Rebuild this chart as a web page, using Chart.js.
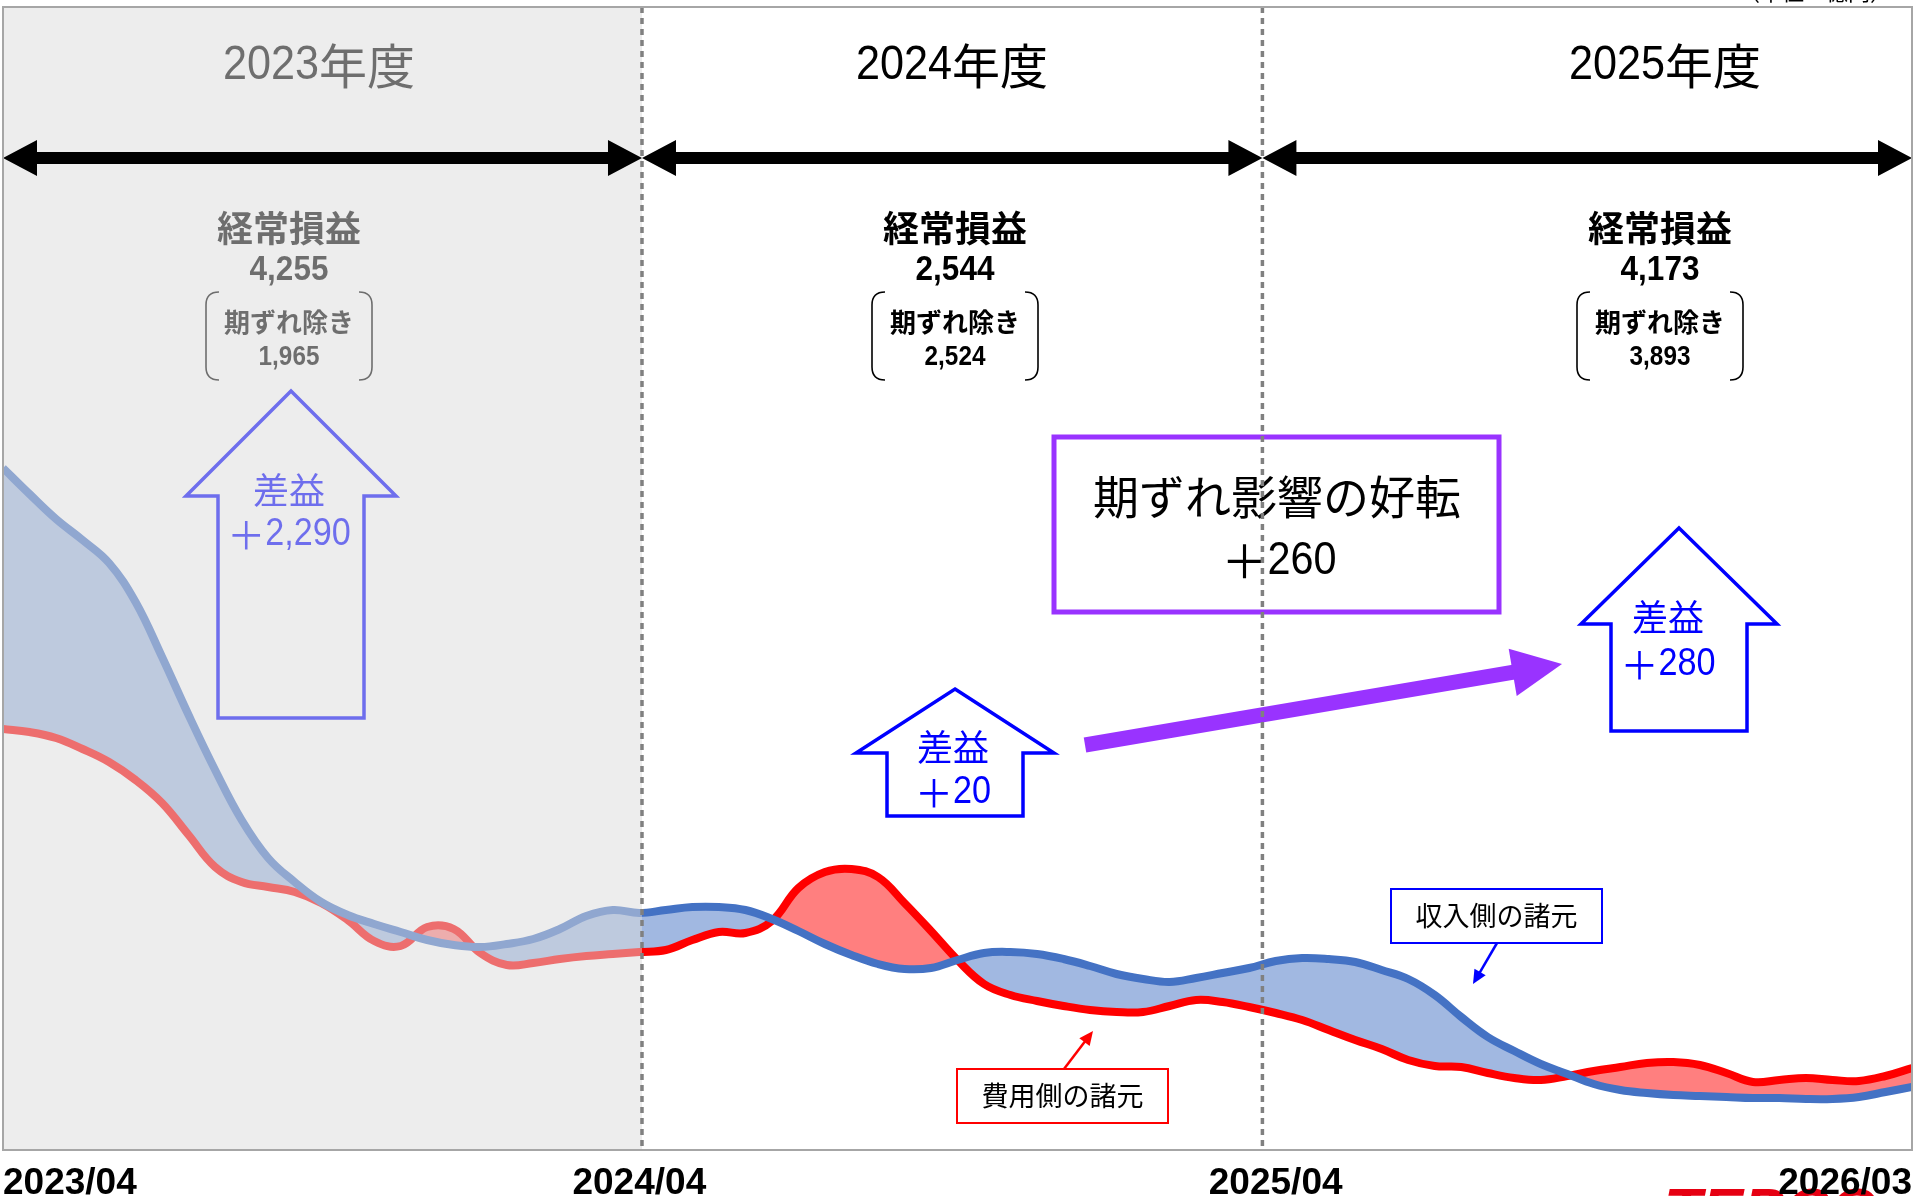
<!DOCTYPE html>
<html lang="ja">
<head>
<meta charset="utf-8">
<title>期ずれ影響</title>
<script src="https://cdn.jsdelivr.net/npm/chart.js@4.4.0/dist/chart.umd.min.js"></script>
<style>
  html, body { margin: 0; padding: 0; background: #fff; }
  canvas { display: block; }
</style>
</head>
<body>
<canvas id="myChart" width="1915" height="1196"></canvas>
<script>
// 軸・区切り
var tickMonths = [0, 12, 24, 36];
var tickLabels = ['2023/04', '2024/04', '2025/04', '2026/03'];
var yearEdges = [12.05, 23.75];

// 年度ごとの注記
var years = ['2023年度', '2024年度', '2025年度'];
var keijo = ['4,255', '2,544', '4,173'];
var kizure = ['1,965', '2,524', '3,893'];
var saeki = ['＋2,290', '＋20', '＋280'];

// 収入側・費用側の諸元（半月ごと、2023/04〜2026/03）
var revenue = [68.2, 65.6, 63.1, 61.0, 58.7, 54.8, 49.3, 43.5, 38.0, 33.0,
  29.2, 26.8, 24.8, 23.5, 22.6, 21.8, 21.0, 20.5, 20.3, 20.6,
  21.1, 22.1, 23.4, 24.0, 23.7, 24.0, 24.3, 24.3, 24.0, 23.1,
  21.9, 20.6, 19.5, 18.6, 18.1, 18.2, 19.0, 19.7, 19.8, 19.6,
  19.1, 18.4, 17.6, 17.1, 16.8, 17.2, 17.7, 18.2, 18.9, 19.2,
  19.1, 18.8, 18.0, 17.1, 15.5, 13.3, 11.3, 9.9, 8.6, 7.6,
  6.6, 6.0, 5.7, 5.5, 5.4, 5.3, 5.2, 5.2, 5.1, 5.1,
  5.3, 5.8, 6.3];
var cost = [42.1, 41.8, 41.2, 40.1, 38.8, 37.0, 34.7, 31.5, 28.3, 26.8,
  26.3, 25.8, 24.7, 23.0, 20.9, 20.4, 22.3, 22.1, 19.7, 18.5,
  18.7, 19.1, 19.4, 19.6, 19.8, 20.0, 21.0, 21.8, 21.7, 22.9,
  26.2, 27.8, 28.1, 27.3, 24.7, 21.9, 19.0, 16.6, 15.5, 14.9,
  14.4, 14.0, 13.8, 13.8, 14.4, 15.0, 14.8, 14.3, 13.7, 13.0,
  12.0, 11.0, 10.1, 9.0, 8.4, 8.3, 7.7, 7.2, 7.0, 7.4,
  7.9, 8.3, 8.7, 8.8, 8.5, 7.7, 6.8, 7.0, 7.2, 7.0,
  6.9, 7.4, 8.2];

var LATIN = '"Liberation Sans", Arial, sans-serif';
var CJK = '"Noto Sans CJK JP", sans-serif';

function toXY(arr) {
  return arr.map(function(v, i) { return { x: i / 2, y: v }; });
}

// 英数字は少し幅を詰めて描く（細めのゴシック風）
function text(ctx, s, x, y, size, bold, color) {
  var sx = 0.9;
  var runs = s.match(/[\x20-\x7E]+|[^\x20-\x7E]+/g).map(function(r) {
    var latin = /^[\x20-\x7E]/.test(r);
    ctx.font = (bold ? 'bold ' : '') + size + 'px ' + (latin ? LATIN : CJK);
    var w = ctx.measureText(r).width;
    return { s: r, latin: latin, w: latin ? w * sx : w };
  });
  var total = runs.reduce(function(a, r) { return a + r.w; }, 0);
  var cx = x - total / 2;
  ctx.fillStyle = color;
  ctx.textAlign = 'left';
  ctx.textBaseline = 'middle';
  runs.forEach(function(r) {
    ctx.font = (bold ? 'bold ' : '') + size + 'px ' + (r.latin ? LATIN : CJK);
    if (r.latin) {
      ctx.save();
      ctx.translate(cx, y);
      ctx.scale(sx, 1);
      ctx.fillText(r.s, 0, 0);
      ctx.restore();
    } else {
      ctx.fillText(r.s, cx, y);
    }
    cx += r.w;
  });
}

function bracket(ctx, x1, x2, y1, y2, color) {
  var r = 13;
  ctx.strokeStyle = color;
  ctx.lineWidth = 1.6;
  ctx.beginPath();
  ctx.moveTo(x1 + r, y1);
  ctx.quadraticCurveTo(x1, y1, x1, y1 + r);
  ctx.lineTo(x1, y2 - r);
  ctx.quadraticCurveTo(x1, y2, x1 + r, y2);
  ctx.moveTo(x2 - r, y1);
  ctx.quadraticCurveTo(x2, y1, x2, y1 + r);
  ctx.lineTo(x2, y2 - r);
  ctx.quadraticCurveTo(x2, y2, x2 - r, y2);
  ctx.stroke();
}

function upArrow(ctx, a, color) {
  ctx.strokeStyle = color;
  ctx.lineWidth = 3.5;
  ctx.lineJoin = 'miter';
  ctx.beginPath();
  ctx.moveTo(a.cx, a.tip);
  ctx.lineTo(a.cx + a.hh, a.base);
  ctx.lineTo(a.cx + a.bh, a.base);
  ctx.lineTo(a.cx + a.bh, a.bottom);
  ctx.lineTo(a.cx - a.bh, a.bottom);
  ctx.lineTo(a.cx - a.bh, a.base);
  ctx.lineTo(a.cx - a.hh, a.base);
  ctx.closePath();
  ctx.stroke();
}

function arrow(ctx, x1, y1, x2, y2, lw, headLen, headHalf, color) {
  var ang = Math.atan2(y2 - y1, x2 - x1);
  var c = Math.cos(ang), s = Math.sin(ang);
  var bx = x2 - headLen * c, by = y2 - headLen * s;
  ctx.strokeStyle = color;
  ctx.fillStyle = color;
  ctx.lineWidth = lw;
  ctx.lineCap = 'butt';
  ctx.beginPath();
  ctx.moveTo(x1, y1);
  ctx.lineTo(bx + c, by + s);
  ctx.stroke();
  ctx.beginPath();
  ctx.moveTo(x2, y2);
  ctx.lineTo(bx - headHalf * s, by + headHalf * c);
  ctx.lineTo(bx + headHalf * s, by - headHalf * c);
  ctx.closePath();
  ctx.fill();
}

function doubleArrow(ctx, x1, x2, y) {
  var hl = 34, hh = 18;
  ctx.fillStyle = '#000';
  ctx.fillRect(x1 + hl - 1, y - 6, x2 - x1 - 2 * hl + 2, 12);
  ctx.beginPath();
  ctx.moveTo(x1, y);
  ctx.lineTo(x1 + hl, y - hh);
  ctx.lineTo(x1 + hl, y + hh);
  ctx.closePath();
  ctx.moveTo(x2, y);
  ctx.lineTo(x2 - hl, y - hh);
  ctx.lineTo(x2 - hl, y + hh);
  ctx.closePath();
  ctx.fill();
}

function callout(ctx, box, label, from, to, color) {
  ctx.fillStyle = '#fff';
  ctx.fillRect(box[0], box[1], box[2] - box[0], box[3] - box[1]);
  ctx.strokeStyle = color;
  ctx.lineWidth = 2;
  ctx.strokeRect(box[0], box[1], box[2] - box[0], box[3] - box[1]);
  text(ctx, label, (box[0] + box[2]) / 2, (box[1] + box[3]) / 2, 27, false, '#000');
  arrow(ctx, from[0], from[1], to[0], to[1], 2.5, 14, 6.5, color);
}

// 列ごとの位置
var cols = [{ cx: 289, tx: 319 }, { cx: 955, tx: 952 }, { cx: 1660, tx: 1665 }];
var ups = [
  { cx: 291, tip: 391, base: 496, hh: 105, bh: 73, bottom: 718, tx: 289, ty: 490, vy: 535 },
  { cx: 955, tip: 689, base: 753, hh: 99, bh: 68, bottom: 816, tx: 953, ty: 747, vy: 793 },
  { cx: 1679, tip: 528, base: 624, hh: 98, bh: 68, bottom: 731, tx: 1668, ty: 617, vy: 665 }
];

function drawColumn(ctx, i) {
  var c = cols[i];
  text(ctx, years[i], c.tx, 66, 48, false, '#000');
  text(ctx, '経常損益', c.cx, 228, 36, true, '#000');
  text(ctx, keijo[i], c.cx, 270, 35, true, '#000');
  bracket(ctx, c.cx - 83, c.cx + 83, 292, 380, '#000');
  text(ctx, '期ずれ除き', c.cx, 322, 26, true, '#000');
  text(ctx, kizure[i], c.cx, 358, 27, true, '#000');
}

function drawUp(ctx, i) {
  var a = ups[i];
  upArrow(ctx, a, '#0000FF');
  text(ctx, '差益', a.tx, a.ty, 36, false, '#0000FF');
  text(ctx, saeki[i], a.tx, a.vy, 38, false, '#0000FF');
}

var background = {
  id: 'background',
  beforeDraw: function(chart) {
    var ctx = chart.ctx;
    ctx.save();
    ctx.fillStyle = '#fff';
    ctx.fillRect(0, 0, chart.width, chart.height);
    // 下端のロゴ（見切れ）
    ctx.font = 'italic bold 62px "Liberation Sans", sans-serif';
    ctx.fillStyle = '#E60012';
    ctx.textAlign = 'left';
    ctx.textBaseline = 'alphabetic';
    ctx.fillText('TEPCO', 1664, 1231);
    ctx.restore();
  }
};

var annotations = {
  id: 'annotations',
  afterDatasetsDraw: function(chart) {
    var ctx = chart.ctx;
    var area = chart.chartArea;
    var xs = chart.scales.x;
    var e1 = xs.getPixelForValue(yearEdges[0]);
    var e2 = xs.getPixelForValue(yearEdges[1]);
    ctx.save();

    // 2023年度（網掛けの下）
    drawColumn(ctx, 0);
    drawUp(ctx, 0);

    // 2023年度の網掛け
    ctx.fillStyle = 'rgba(220,220,220,0.5)';
    ctx.fillRect(area.left, area.top, e1 - area.left, area.bottom - area.top);

    drawColumn(ctx, 1);
    drawColumn(ctx, 2);
    drawUp(ctx, 1);
    drawUp(ctx, 2);

    // 期ずれ影響の好転
    ctx.fillStyle = '#fff';
    ctx.fillRect(1054, 437, 445, 175);
    ctx.strokeStyle = '#9933FF';
    ctx.lineWidth = 5;
    ctx.strokeRect(1054, 437, 445, 175);
    text(ctx, '期ずれ影響の好転', 1277, 497, 46, false, '#000');
    text(ctx, '＋260', 1279, 561, 46, false, '#000');
    arrow(ctx, 1085, 745, 1562, 664, 15, 50, 24, '#9933FF');

    callout(ctx, [957, 1069, 1168, 1123], '費用側の諸元', [1064, 1069], [1093, 1031], '#FF0000');
    callout(ctx, [1391, 889, 1602, 943], '収入側の諸元', [1497, 943], [1473, 984], '#0000FF');

    // 年度区切りの点線
    ctx.strokeStyle = '#808080';
    ctx.lineWidth = 3.5;
    ctx.setLineDash([6, 5]);
    [e1, e2].forEach(function(x) {
      ctx.beginPath();
      ctx.moveTo(x, area.top);
      ctx.lineTo(x, area.bottom);
      ctx.stroke();
    });
    ctx.setLineDash([]);

    // 両矢印
    doubleArrow(ctx, area.left, e1, 158);
    doubleArrow(ctx, e1, e2, 158);
    doubleArrow(ctx, e2, area.right, 158);

    // 枠
    ctx.strokeStyle = '#A6A6A6';
    ctx.lineWidth = 2;
    ctx.strokeRect(area.left, area.top, area.right - area.left, area.bottom - area.top);

    // 単位（見切れ）
    ctx.font = '22px ' + CJK;
    ctx.fillStyle = '#000';
    ctx.textAlign = 'right';
    ctx.textBaseline = 'alphabetic';
    ctx.fillText('（単位：億円）', 1892, 0);
    ctx.restore();
  }
};

var chartArea = document.getElementById('myChart').getContext('2d');
var myChart = new Chart(chartArea, {
  type: 'line',
  data: {
    datasets: [{
      label: '収入側の諸元',
      data: toXY(revenue),
      borderColor: '#4472C4',
      borderWidth: 8,
      pointRadius: 0,
      tension: 0.4,
      fill: {
        target: 1,
        above: 'rgba(68, 114, 196, 0.5)',
        below: 'rgba(255, 0, 0, 0.5)'
      }
    }, {
      label: '費用側の諸元',
      data: toXY(cost),
      borderColor: '#FF0000',
      borderWidth: 8,
      pointRadius: 0,
      tension: 0.4,
      fill: false
    }]
  },
  options: {
    responsive: false,
    animation: false,
    events: [],
    layout: {
      padding: { top: 7, left: 0, right: 0, bottom: 0 }
    },
    scales: {
      x: {
        type: 'linear',
        min: 0,
        max: 36,
        grid: { display: false, drawTicks: false },
        border: { display: false },
        afterBuildTicks: function(scale) {
          scale.ticks = tickMonths.map(function(v) { return { value: v }; });
        },
        afterFit: function(scale) {
          scale.height = 46;
        },
        ticks: {
          autoSkip: false,
          maxRotation: 0,
          align: 'inner',
          padding: 3,
          color: '#000',
          font: { family: LATIN, size: 37, weight: 'bold', lineHeight: 1.65 },
          callback: function(value, index) {
            return tickLabels[index];
          }
        }
      },
      y: {
        display: false,
        min: 0,
        max: 114.3
      }
    },
    plugins: {
      legend: { display: false },
      tooltip: { enabled: false },
      filler: { drawTime: 'beforeDatasetsDraw' }
    }
  },
  plugins: [background, annotations]
});
</script>
</body>
</html>
